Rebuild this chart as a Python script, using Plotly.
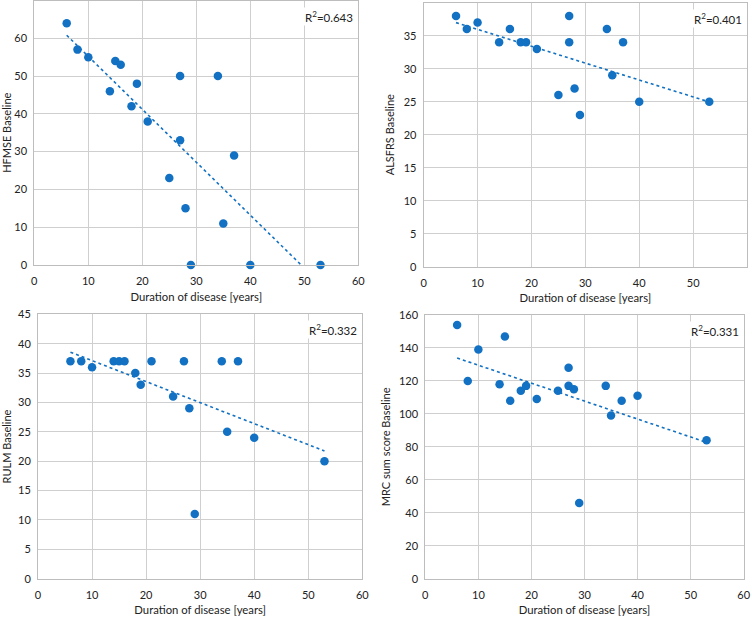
import numpy as np
import plotly.graph_objects as go
from plotly.subplots import make_subplots

# ---- data ----
hfmse_x = [6, 8, 10, 14, 15, 16, 18, 19, 21, 25, 27, 27, 28, 29, 34, 35, 37, 40, 53]
hfmse_y = [64, 57, 55, 46, 54, 53, 42, 48, 38, 23, 50, 33, 15, 0, 50, 11, 29, 0, 0]

alsfrs_x = [6, 8, 10, 14, 16, 18, 19, 21, 25, 27, 27, 28, 29, 34, 35, 37, 40, 53]
alsfrs_y = [38, 36, 37, 34, 36, 34, 34, 33, 26, 38, 34, 27, 23, 36, 29, 34, 25, 25]

rulm_x = [6, 8, 10, 14, 15, 16, 18, 19, 21, 25, 27, 28, 29, 34, 35, 37, 40, 53]
rulm_y = [37, 37, 36, 37, 37, 37, 35, 33, 37, 31, 37, 29, 11, 37, 25, 37, 24, 20]

mrc_x = [6, 8, 10, 14, 15, 16, 18, 19, 21, 25, 27, 27, 28, 29, 34, 35, 37, 40, 53]
mrc_y = [154, 120, 139, 118, 147, 108, 114, 117, 109, 114, 128, 117, 115, 46, 117, 99, 108, 111, 84]

r2_labels = ["R<sup>2</sup>=0.643", "R<sup>2</sup>=0.401", "R<sup>2</sup>=0.332", "R<sup>2</sup>=0.331"]
y_titles = ["HFMSE Baseline", "ALSFRS Baseline", "RULM Baseline", "MRC sum score Baseline"]
x_title = "Duration of disease [years]"
y_ranges = [(0, 70, 10), (0, 40, 5), (0, 45, 5), (0, 160, 20)]

panels = [(hfmse_x, hfmse_y), (alsfrs_x, alsfrs_y), (rulm_x, rulm_y), (mrc_x, mrc_y)]

BLUE = "#1271c2"
FONT = "Lato"
W, H = 752, 617

# pixel boxes of the plot areas: (left, right, top, bottom)
boxes = [(34.3, 358.3, 0.5, 265.0),
         (423.7, 747.0, 2.7, 266.7),
         (38.0, 362.3, 314.3, 578.7),
         (425.3, 743.7, 315.0, 578.7)]

fig = make_subplots(rows=2, cols=2)

for i, ((xs, ys), box) in enumerate(zip(panels, boxes)):
    r, c = i // 2 + 1, i % 2 + 1
    xa = np.array(xs, float)
    ya = np.array(ys, float)
    slope, icpt = np.polyfit(xa, ya, 1)
    x0, x1 = xa.min(), xa.max()
    if slope * x1 + icpt < 0:
        x1 = -icpt / slope
    tx = np.linspace(x0, x1, 2)
    fig.add_trace(go.Scatter(x=tx, y=slope * tx + icpt, mode="lines",
                             line=dict(color=BLUE, width=1.6, dash="dot"),
                             showlegend=False, hoverinfo="skip"), row=r, col=c)
    fig.add_trace(go.Scatter(x=xs, y=ys, mode="markers",
                             marker=dict(color=BLUE, size=8.5),
                             showlegend=False, cliponaxis=False), row=r, col=c)
    l, rr, t, b = box
    ymin, ymax, dt = y_ranges[i]
    fig.update_xaxes(domain=[l / W, rr / W], range=[0, 60], dtick=10,
                     automargin=False,
                     showgrid=True, gridcolor="#cfcfcf", gridwidth=1,
                     showline=True, linecolor="#bdbdbd", linewidth=1, mirror=True,
                     zeroline=False, ticks="outside", ticklen=6, tickcolor="rgba(0,0,0,0)",
                     tickfont=dict(family=FONT, size=11, color="#222"),
                     title=dict(text=x_title, standoff=6,
                                font=dict(family=FONT, size=11.3, color="#222")),
                     row=r, col=c)
    fig.update_yaxes(domain=[1 - b / H, 1 - t / H], range=[ymin, ymax], dtick=dt,
                     automargin=False,
                     showgrid=True, gridcolor="#cfcfcf", gridwidth=1,
                     showline=True, linecolor="#bdbdbd", linewidth=1, mirror=True,
                     zeroline=False, ticks="outside", ticklen=4, tickcolor="rgba(0,0,0,0)",
                     tickfont=dict(family=FONT, size=11, color="#222"),
                     title=dict(text=y_titles[i], standoff=6,
                                font=dict(family=FONT, size=11, color="#222")),
                     row=r, col=c)
    xref = "x" if i == 0 else f"x{i + 1}"
    yref = "y" if i == 0 else f"y{i + 1}"
    fig.add_annotation(x=1, y=1, xref=f"{xref} domain", yref=f"{yref} domain",
                       xanchor="right", yanchor="top", xshift=-3, yshift=-6,
                       text=r2_labels[i], showarrow=False, bgcolor="white",
                       font=dict(family=FONT, size=11.5, color="#222"))

fig.update_layout(width=W, height=H, margin=dict(l=0, r=0, t=0, b=0),
                  plot_bgcolor="white", paper_bgcolor="white",
                  font=dict(family=FONT))

fig.write_html("out.html", config={"displayModeBar": False},
               post_script="document.body.style.margin='0';document.body.style.overflow='hidden';")
